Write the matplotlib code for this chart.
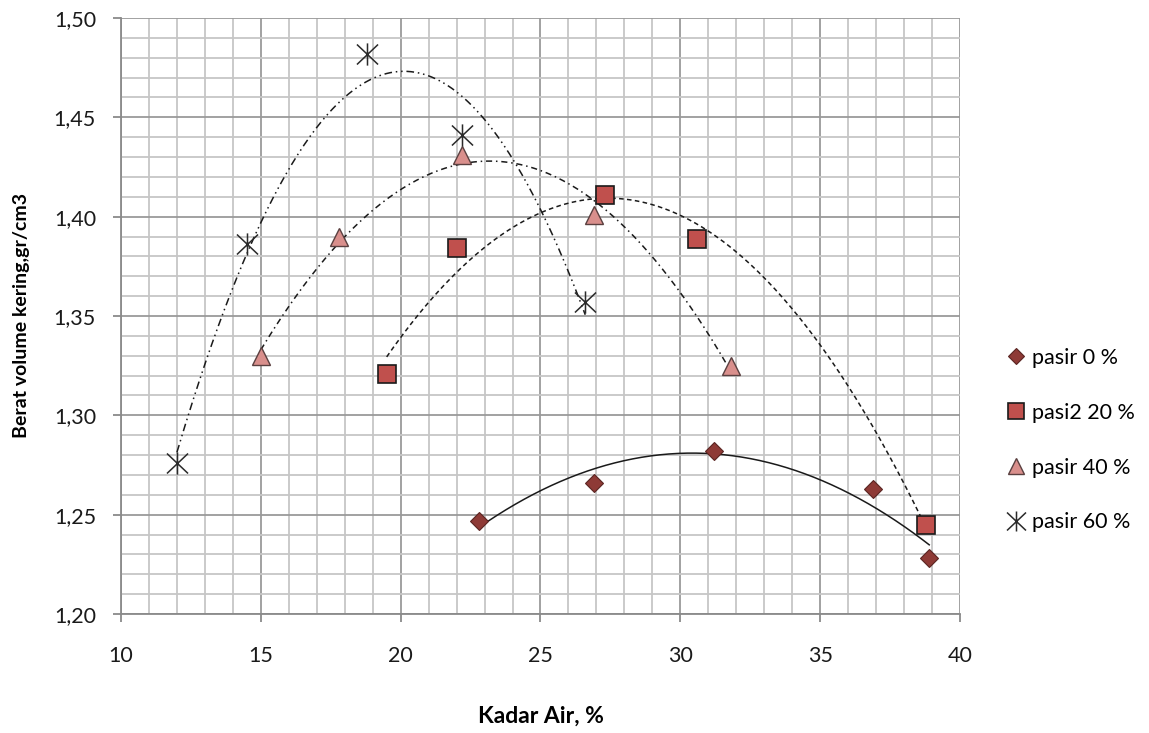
"""Kadar air vs berat volume kering untuk beberapa kadar pasir (dengan trendline polinomial orde 2)."""
import matplotlib

matplotlib.use("Agg")
import matplotlib.pyplot as plt
import numpy as np
from matplotlib.path import Path
from matplotlib.ticker import MultipleLocator, FixedLocator, FixedFormatter

plt.rcParams["font.family"] = ["Lato", "DejaVu Sans"]

# data yang dibaca dari grafik
x_p0 = [22.8, 26.9, 31.2, 36.9, 38.9]
y_p0 = [1.247, 1.266, 1.282, 1.263, 1.228]

x_p20 = [19.5, 22.0, 27.3, 30.6, 38.8]
y_p20 = [1.321, 1.384, 1.411, 1.389, 1.245]

x_p40 = [15.0, 17.8, 22.2, 26.9, 31.8]
y_p40 = [1.330, 1.390, 1.431, 1.401, 1.325]

x_p60 = [12.0, 14.5, 18.8, 22.2, 26.6]
y_p60 = [1.276, 1.386, 1.482, 1.441, 1.357]

labels = ["pasir 0 %", "pasi2 20 %", "pasir 40 %", "pasir 60 %"]
x_ticks = [10, 15, 20, 25, 30, 35, 40]
y_ticks = [1.20, 1.25, 1.30, 1.35, 1.40, 1.45, 1.50]
y_ticklabels = ["1,20", "1,25", "1,30", "1,35", "1,40", "1,45", "1,50"]

# marker bintang ala Excel: garis vertikal + X
star = Path(
    [(0, -1), (0, 1), (-0.95, -0.9), (0.95, 0.9), (-0.95, 0.9), (0.95, -0.9)],
    [Path.MOVETO, Path.LINETO, Path.MOVETO, Path.LINETO, Path.MOVETO, Path.LINETO],
)

series = [
    (x_p0, y_p0, dict(marker="D", ms=9.5, mfc="#8e3a36", mec="#5a2522", mew=0.8), "-"),
    (x_p20, y_p20, dict(marker="s", ms=13, mfc="#c0504d", mec="#1a1a1a", mew=1.2), (0, (3, 2.2))),
    (x_p40, y_p40, dict(marker="^", ms=13, mfc="#d98f8c", mec="#5a4040", mew=1.0), (0, (4, 2.5, 1, 2.5))),
    (x_p60, y_p60, dict(marker=star, ms=16, mfc="none", mec="#2a2a2a", mew=1.1), (0, (5, 2.5, 1, 2.5, 1, 2.5))),
]

fig = plt.figure(figsize=(11.49, 7.33), dpi=100)
ax = fig.add_axes([0.1053, 0.1624, 0.7302, 0.8130])

handles = []
for (xs, ys, mk, ls), lab in zip(series, labels):
    coef = np.polyfit(xs, ys, 2)
    xx = np.linspace(min(xs), max(xs), 200)
    ax.plot(xx, np.polyval(coef, xx), color="#1a1a1a", lw=1.1, ls=ls, zorder=3)
    h, = ax.plot(xs, ys, ls="none", zorder=4, **mk)
    handles.append(h)

ax.set_xlim(10, 40)
ax.set_ylim(1.20, 1.50)
ax.xaxis.set_major_locator(FixedLocator(x_ticks))
ax.xaxis.set_minor_locator(MultipleLocator(1))
ax.yaxis.set_major_locator(FixedLocator(y_ticks))
ax.yaxis.set_major_formatter(FixedFormatter(y_ticklabels))
ax.yaxis.set_minor_locator(MultipleLocator(0.01))

ax.grid(which="major", color="#9a9a9a", lw=1.3)
ax.grid(which="minor", color="#c6c6c6", lw=1.3)
ax.set_axisbelow(True)

for side in ["top", "right"]:
    ax.spines[side].set_visible(False)
for side in ["left", "bottom"]:
    ax.spines[side].set_color("#8a8a8a")
    ax.spines[side].set_linewidth(1.3)

ax.tick_params(which="major", length=6, width=1.3, color="#8a8a8a", labelsize=15.5,
               labelcolor="#1a1a1a")
ax.tick_params(axis="y", which="major", pad=12)
ax.tick_params(axis="x", which="major", pad=17)
ax.tick_params(which="minor", length=0)

ax.set_xlabel("Kadar Air, %", fontsize=16.5, fontweight="bold", labelpad=29)
ax.set_ylabel("Berat volume kering,gr/cm3", fontsize=14, fontweight="bold", labelpad=17)

leg = fig.legend(handles, labels, loc="upper left", bbox_to_anchor=(0.858, 0.552),
                 frameon=False, fontsize=15.5, handlelength=1.0, handletextpad=0.25,
                 labelspacing=1.62, markerscale=0.9)

fig.savefig("out.png", dpi=100)
